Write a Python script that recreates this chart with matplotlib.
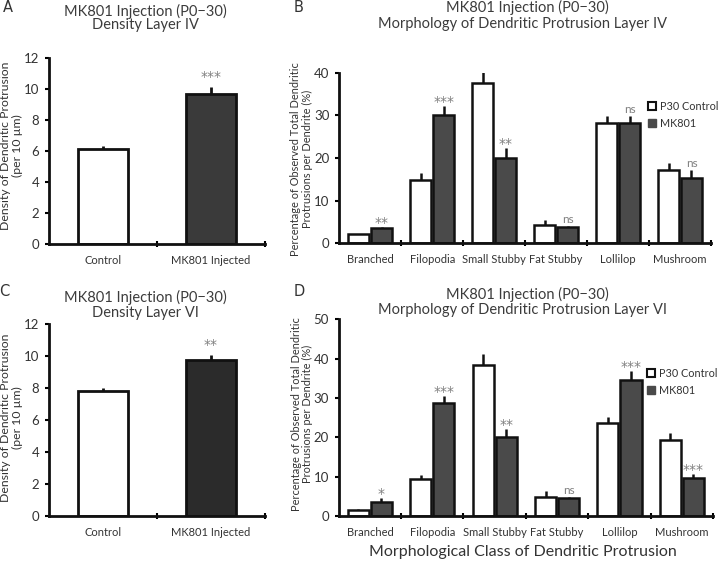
import matplotlib
matplotlib.use("Agg")
import matplotlib.pyplot as plt
import numpy as np
from matplotlib.patches import Patch

plt.rcParams['font.family'] = ['Lato', 'DejaVu Sans']

# ---- data ----
dens_groups = ["Control", "MK801 Injected"]
dens4_vals = [6.1, 9.7]
dens4_err = [0.25, 0.4]
dens4_sig = ["", "***"]
dens6_vals = [7.8, 9.75]
dens6_err = [0.2, 0.3]
dens6_sig = ["", "**"]

morph_cats = ["Branched", "Filopodia", "Small Stubby", "Fat Stubby", "Lollilop", "Mushroom"]
l4_ctrl = [2.1, 14.9, 37.5, 4.3, 28.1, 17.1]
l4_ctrl_err = [0.1, 1.7, 3.1, 1.2, 1.7, 1.7]
l4_mk = [3.5, 30.1, 19.9, 3.75, 28.1, 15.4]
l4_mk_err = [0.25, 2.1, 2.5, 0.4, 1.7, 1.7]
l4_sig = ["**", "***", "**", "ns", "ns", "ns"]

l6_ctrl = [1.6, 9.5, 38.5, 4.9, 23.7, 19.3]
l6_ctrl_err = [0.1, 0.9, 2.8, 1.5, 1.5, 1.9]
l6_mk = [3.6, 28.7, 20.1, 4.6, 34.6, 9.7]
l6_mk_err = [0.9, 1.9, 2.1, 0.3, 2.3, 1.0]
l6_sig = ["*", "***", "**", "ns", "***", "***"]

W, H = 720, 561
fig = plt.figure(figsize=(7.2, 5.61), dpi=100)

TXT = '#333333'
TITLE = '#3c3c3c'
SIG = '#808080'

def ax_at(l, r, b, t):
    return fig.add_axes([l / W, 1 - b / H, (r - l) / W, (b - t) / H])

def ftext(px, py, s, **kw):
    fig.text(px / W, 1 - py / H, s, **kw)

def style(ax):
    for s in ['top', 'right']:
        ax.spines[s].set_visible(False)
    for s in ['left', 'bottom']:
        ax.spines[s].set_linewidth(2)
        ax.spines[s].set_color('#111111')
    ax.tick_params(axis='y', direction='out', length=3, width=1.5, labelsize=9.5,
                   labelcolor=TXT, pad=4)
    ax.tick_params(axis='x', which='both', length=0, labelsize=8, labelcolor=TXT, pad=8)
    ax.tick_params(axis='x', which='minor', direction='inout', length=5, width=1.5)

def sig_text(ax, x, y, s, extra=0):
    if '*' in s:
        ax.annotate(s, (x, y), xytext=(0, extra), textcoords='offset pixels',
                    ha='center', va='baseline', color=SIG, fontsize=10,
                    family=['DejaVu Sans'])
    else:
        ax.annotate(s, (x, y), xytext=(0, 3 + extra), textcoords='offset pixels',
                    ha='center', va='baseline', color=SIG, fontsize=8.5)

def density_panel(ax, vals, errs, sigs, dark):
    x = np.arange(len(vals))
    ax.bar(x, vals, width=0.47, color=['white', dark], edgecolor='#111111', linewidth=2, zorder=2)
    ax.errorbar(x, vals, yerr=[np.zeros(len(errs)), errs], fmt='none', ecolor='#111111',
                elinewidth=2, capsize=0, zorder=1)
    for xi, v, e, s in zip(x, vals, errs, sigs):
        if s:
            sig_text(ax, xi, v + e, s, extra=6)
    ax.set_xlim(-0.5, 1.5)
    ax.set_ylim(0, 12)
    ax.set_yticks(range(0, 13, 2))
    ax.set_xticks(x)
    ax.set_xticklabels(dens_groups)
    ax.set_xticks([0.5, 1.5], minor=True)
    style(ax)

def morph_panel(ax, ctrl, ce, mk, me, sigs, ymax, yticks):
    x = np.arange(len(ctrl))
    w = 0.34
    off = 0.185
    ax.bar(x - off, ctrl, width=w, color='white', edgecolor='#111111', linewidth=1.8,
           zorder=2, label='P30 Control')
    ax.bar(x + off, mk, width=w, color='#4a4a4a', edgecolor='#111111', linewidth=1.8,
           zorder=2, label='MK801')
    ax.errorbar(x - off, ctrl, yerr=[np.zeros(len(ce)), ce], fmt='none', ecolor='#111111',
                elinewidth=1.8, capsize=0, zorder=1)
    ax.errorbar(x + off, mk, yerr=[np.zeros(len(me)), me], fmt='none', ecolor='#111111',
                elinewidth=1.8, capsize=0, zorder=1)
    for xi, v, e, s in zip(x + off, mk, me, sigs):
        sig_text(ax, xi, v + e, s)
    ax.set_xlim(-0.5, len(ctrl) - 0.5)
    ax.set_ylim(0, ymax)
    ax.set_yticks(yticks)
    ax.set_xticks(x)
    ax.set_xticklabels(morph_cats)
    ax.set_xticks(np.arange(len(ctrl)) + 0.5, minor=True)
    style(ax)
    handles = [Patch(facecolor='white', edgecolor='#111111', linewidth=1.5),
               Patch(facecolor='#4a4a4a', edgecolor='#4a4a4a')]
    return handles

leg_kw = dict(loc='upper left', frameon=False, fontsize=7.8, handlelength=0.7,
              handleheight=0.7, handletextpad=0.4, labelcolor=TXT, borderaxespad=0,
              borderpad=0, labelspacing=0.55)

# Panel A
axA = ax_at(49, 265, 244, 58)
density_panel(axA, dens4_vals, dens4_err, dens4_sig, '#3a3a3a')
# Panel C
axC = ax_at(49, 265, 516, 324.3)
density_panel(axC, dens6_vals, dens6_err, dens6_sig, '#2b2b2b')

dens_ylabel = "Density of Dendritic Protrusion\n(per 10 µm)"
ylkw = dict(ha='center', va='center', rotation=90, color=TXT, fontsize=8.8, linespacing=1.1)
ftext(11.5, 146, dens_ylabel, **ylkw)
ftext(11.5, 418, dens_ylabel, **ylkw)

# Panel B
axB = ax_at(339.3, 711, 243.3, 72.7)
hb = morph_panel(axB, l4_ctrl, l4_ctrl_err, l4_mk, l4_mk_err, l4_sig, 40, range(0, 41, 10))
axB.legend(hb, ['P30 Control', 'MK801'], bbox_to_anchor=((648 - 339.3) / (711 - 339.3),
           1 - (101 - 72.7) / (243.3 - 72.7)), **leg_kw)

# Panel D
axD = ax_at(338.7, 713, 516, 319.3)
hd = morph_panel(axD, l6_ctrl, l6_ctrl_err, l6_mk, l6_mk_err, l6_sig, 50, range(0, 51, 10))
axD.legend(hd, ['P30 Control', 'MK801'], bbox_to_anchor=((647 - 338.7) / (713 - 338.7),
           (516 - 368) / (516 - 319.3)), **leg_kw)

morph_ylabel = "Percentage of Observed Total Dendritic\nProtrusions per Dendrite (%)"
ylkw2 = dict(ha='center', va='center', rotation=90, color=TXT, fontsize=7.9, linespacing=1.1)
ftext(301.5, 159, morph_ylabel, **ylkw2)
ftext(302, 414, morph_ylabel, **ylkw2)

ftext(523, 552, "Morphological Class of Dendritic Protrusion", ha='center', va='center',
      color=TXT, fontsize=11.5)

# Titles and panel letters
tkw = dict(ha='center', va='center', color=TITLE, fontsize=10.5)
ftext(145, 11, "MK801 Injection (P0\u221230)", **tkw)
ftext(145, 25, "Density Layer IV", **tkw)
ftext(527, 7, "MK801 Injection (P0\u221230)", **tkw)
ftext(523, 24, "Morphology of Dendritic Protrusion Layer IV", **tkw)
ftext(145, 297, "MK801 Injection (P0\u221230)", **tkw)
ftext(145, 313, "Density Layer VI", **tkw)
ftext(527, 294, "MK801 Injection (P0\u221230)", **tkw)
ftext(523, 310, "Morphology of Dendritic Protrusion Layer VI", **tkw)

lkw = dict(ha='center', va='center', color='#333333', fontsize=10.5,
           family=['DejaVu Sans'])
ftext(8, 8, "A", **lkw)
ftext(299, 7, "B", **lkw)
ftext(4, 292, "C", **lkw)
ftext(299, 292, "D", **lkw)

fig.savefig("out.png", dpi=100)
